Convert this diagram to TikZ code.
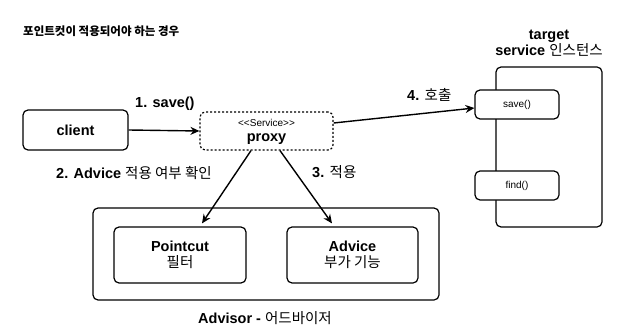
\documentclass[tikz,border=0pt]{standalone}
\usepackage{fontspec}
\setmainfont{Liberation Sans}
\newfontfamily\kr{Noto Sans CJK KR}
\newcommand\krt[1]{{\kr\mdseries #1}}
\usetikzlibrary{arrows.meta}
\begin{document}
\begin{tikzpicture}[x=1pt,y=-1pt,
  box/.style={draw,line width=1.2pt,rounded corners=5pt,align=center,inner sep=0pt},
  pbox/.style={box,dashed,dash pattern=on 2pt off 2pt},
  lbl/.style={inner sep=0pt,align=center},
  big/.style={font=\bfseries\fontsize{14.5}{17}\selectfont},
  small/.style={font=\fontsize{10}{12}\selectfont},
  arr/.style={line width=1.4pt,-{Stealth[length=9pt,width=8pt,inset=3pt]}}]
\useasboundingbox (0,0) rectangle (629,334);
\node[lbl,anchor=west,font=\kr\bfseries\fontsize{11.5}{13}\selectfont] (title) at (23,31) {포인트컷이 적용되어야 하는 경우};

\node[box,minimum width=105pt,minimum height=40pt,big] (client) at (75.5,130) {client};
\node[pbox,minimum width=133pt,minimum height=38pt] (proxy) at (266.5,131) {};
\node[lbl,small] (stereo) at (266.5,123) {<{}<Service>{}>};
\node[lbl,big] (proxytxt) at (266.5,139) {proxy};

\node[box,minimum width=106pt,minimum height=160pt] (target) at (549,147) {};
\node[lbl,big] (tlabel) at (549,43) {target\\[-1pt]service \krt{인스턴스}};
\node[box,fill=white,minimum width=84pt,minimum height=29pt,small] (save) at (517,104.5) {save()};
\node[box,fill=white,minimum width=84pt,minimum height=29pt,small] (find) at (517,185.5) {find()};

\node[box,minimum width=346pt,minimum height=92pt] (advisor) at (266,254) {};
\node[box,minimum width=132pt,minimum height=56pt,big] (pointcut) at (180,255) {Pointcut\\[-1pt]\krt{필터}};
\node[box,minimum width=131pt,minimum height=56pt,big] (advice) at (352.5,255) {Advice\\[-1pt]\krt{부가 기능}};
\node[lbl,big] (advlabel) at (265,318) {Advisor - \krt{어드바이저}};

\draw[arr] (client.east) -- (proxy.west);
\node[lbl,anchor=west,big] (l1) at (135,104) {1. save()};
\draw[arr] ([xshift=-15.5pt]proxy.south) -- ([xshift=22pt,yshift=3pt]pointcut.north);
\node[lbl,anchor=west,big] (l2) at (56,173) {2. Advice \krt{적용 여부 확인}};
\draw[arr] ([xshift=13.5pt]proxy.south) -- ([xshift=-20.5pt,yshift=3pt]advice.north);
\node[lbl,anchor=west,big] (l3) at (312,172) {3. \krt{적용}};
\draw[arr] ([yshift=8pt]proxy.east) -- ([yshift=-3.5pt]save.west);
\node[lbl,anchor=west,big] (l4) at (407,95) {4. \krt{호출}};
\end{tikzpicture}
\end{document}
